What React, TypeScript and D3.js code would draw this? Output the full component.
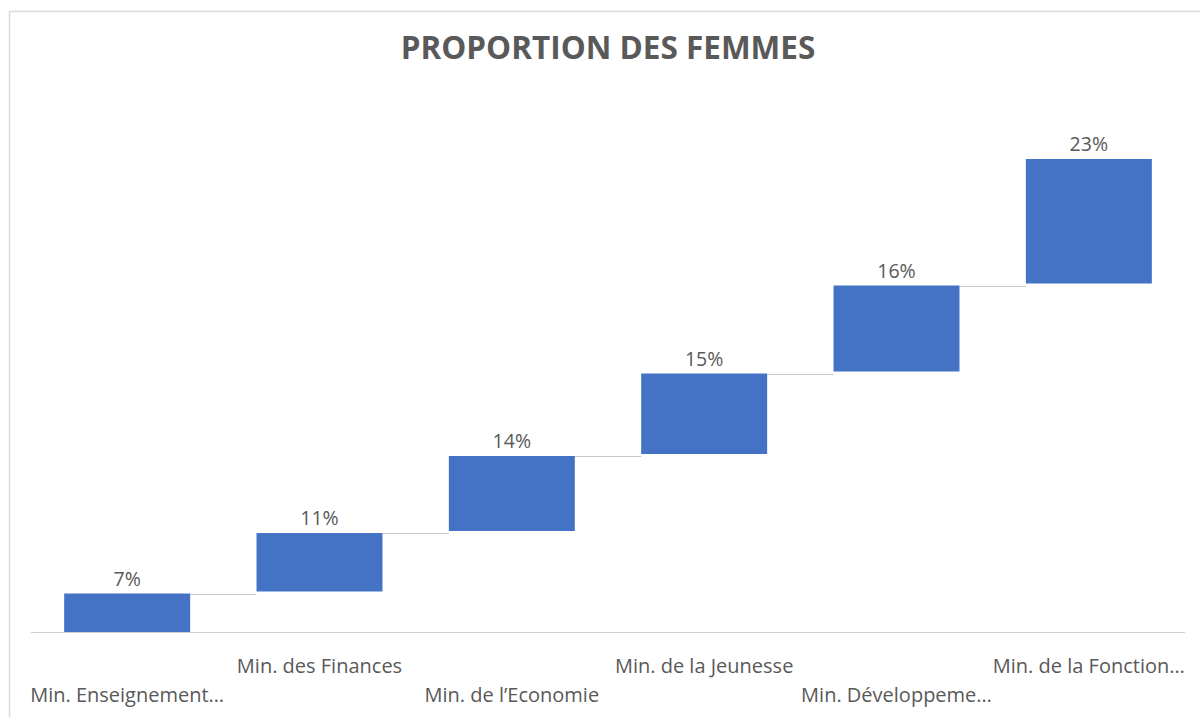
import React from 'react';
import * as d3 from 'd3';

// waterfall data: each step adds to the previous total
const categories = [
  'Min. Enseignement…',
  'Min. des Finances',
  'Min. de l’Economie',
  'Min. de la Jeunesse',
  'Min. Développeme…',
  'Min. de la Fonction…',
];
const values = [7, 11, 14, 15, 16, 23];
const valueLabels = ['7%', '11%', '14%', '15%', '16%', '23%'];
const yDomain = [0, 100];

const W = 1200;
const H = 717;
const plot = { left: 31, right: 1185, top: 82, bottom: 632 };
const font = "'Open Sans', 'Noto Sans', sans-serif";
const textColor = '#595959';
const barColor = '#4472c4';

export default function App() {
  const x = d3.scaleBand<string>()
    .domain(categories)
    .range([plot.left, plot.right])
    .paddingInner(0.345)
    .paddingOuter(0.1725);

  const y = d3.scaleLinear()
    .domain(yDomain)
    .range([plot.bottom, plot.top]);

  // running totals for the floating bars
  const ends = d3.cumsum(values);
  const bars = categories.map((c, i) => ({
    cat: c,
    start: i === 0 ? 0 : ends[i - 1],
    end: ends[i],
    label: valueLabels[i],
    row: i % 2 === 1 ? 0 : 1,
  }));

  const bw = x.bandwidth();

  return (
    <svg width={W} height={H} style={{ position: 'absolute', left: 0, top: 0, background: '#fff' }}>
      <rect x={9.5} y={11.5} width={W + 10} height={H + 10} fill="#fff" stroke="#d9d9d9" strokeWidth={1.5} />

      <text x={608} y={59} textAnchor="middle" fontFamily={font} fontWeight={700}
        fontSize={31.5} fill={textColor}>PROPORTION DES FEMMES</text>

      {/* axis line */}
      <line x1={plot.left} x2={plot.right} y1={y(0) + 0.5} y2={y(0) + 0.5} stroke="#d0d0d0" strokeWidth={1} />

      {/* connectors */}
      {bars.slice(0, -1).map((b, i) => (
        <line key={'c' + i}
          x1={(x(b.cat) ?? 0) + bw} x2={x(bars[i + 1].cat) ?? 0}
          y1={Math.round(y(b.end)) + 0.5} y2={Math.round(y(b.end)) + 0.5}
          stroke="#c8c8c8" strokeWidth={1} />
      ))}

      {bars.map((b) => (
        <g key={b.cat}>
          <rect x={x(b.cat)} width={bw}
            y={y(b.end)} height={y(b.start) - y(b.end) - (b.start > 0 ? 2 : 0)}
            fill={barColor} />
          <text x={(x(b.cat) ?? 0) + bw / 2} y={y(b.end) - 8} textAnchor="middle"
            fontFamily={font} fontSize={19.5} fill={textColor}>{b.label}</text>
          <text x={(x(b.cat) ?? 0) + bw / 2} y={b.row === 0 ? 673 : 702} textAnchor="middle"
            fontFamily={font} fontSize={20} fill={textColor}>{b.cat}</text>
        </g>
      ))}
    </svg>
  );
}
